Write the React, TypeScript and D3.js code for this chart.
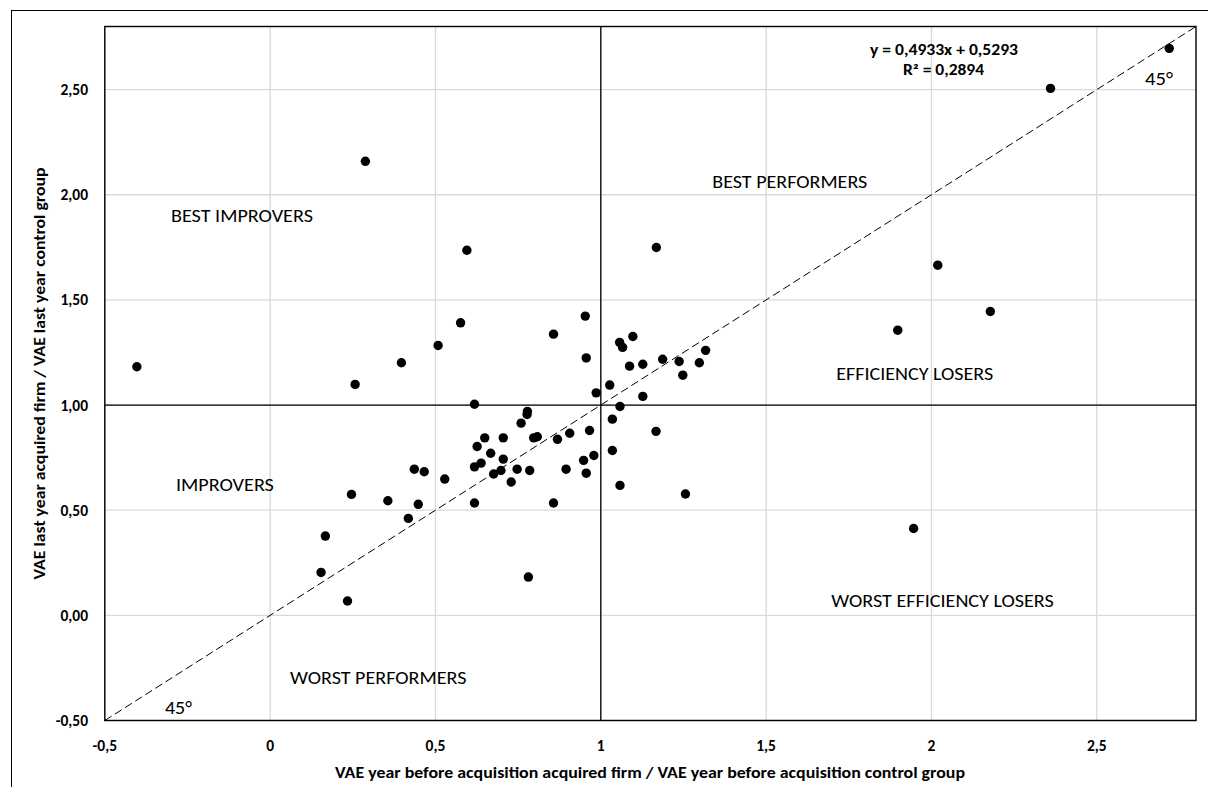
import React from "react";
import * as d3 from "d3";

// x: VAE year before acquisition ratio, y: VAE last year ratio
const X_VALUES = [
  0.857, 0.508, 0.397, 1.057, 1.066, 1.097, 0.956, 1.087, 1.127, 1.187,
  1.237, 1.317, 1.298, 1.248, 1.027, 0.986, 1.127, 0.618, 1.058, 0.778,
  0.777, 0.759, 1.035, 0.966, 0.906, 0.869, 0.797, 0.808, 0.705, 0.649,
  0.626, 0.667, 0.705, 0.638, 0.618, 0.747, 0.785, 0.698, 0.676, 0.729,
  1.167, 1.035, 0.979, 0.948, 0.895, 0.956, 1.058, 1.256, 0.857, 0.618,
  0.436, 0.466, 0.528, 0.356, 0.448, 0.418, -0.403, 0.288, 0.595, 0.576,
  0.257, 0.246, 0.167, 0.154, 0.234, 2.019, 2.178, 1.898, 1.946, 1.168,
  2.719, 2.36, 0.781, 0.953,
];
const Y_VALUES = [
  1.337, 1.283, 1.201, 1.298, 1.274, 1.326, 1.224, 1.185, 1.194, 1.218,
  1.207, 1.26, 1.201, 1.142, 1.095, 1.058, 1.041, 1.004, 0.993, 0.97,
  0.955, 0.914, 0.933, 0.879, 0.866, 0.837, 0.844, 0.849, 0.844, 0.844,
  0.803, 0.771, 0.743, 0.724, 0.706, 0.695, 0.689, 0.689, 0.672, 0.634,
  0.875, 0.784, 0.76, 0.737, 0.695, 0.676, 0.618, 0.577, 0.534, 0.534,
  0.695, 0.683, 0.648, 0.545, 0.528, 0.461, 1.182, 2.159, 1.736, 1.391,
  1.098, 0.575, 0.377, 0.204, 0.068, 1.665, 1.445, 1.356, 0.413, 1.749,
  2.696, 2.506, 0.182, 1.423,
];

const X_TICKS = [-0.5, 0, 0.5, 1, 1.5, 2, 2.5];
const X_TICK_LABELS = ["-0,5", "0", "0,5", "1", "1,5", "2", "2,5"];
const Y_TICKS = [-0.5, 0, 0.5, 1, 1.5, 2, 2.5];
const Y_TICK_LABELS = ["-0,50", "0,00", "0,50", "1,00", "1,50", "2,00", "2,50"];

const QUADRANT_LABELS = [
  "BEST IMPROVERS",
  "BEST PERFORMERS",
  "EFFICIENCY LOSERS",
  "IMPROVERS",
  "WORST PERFORMERS",
  "WORST EFFICIENCY LOSERS",
];

const X_TITLE = "VAE year before acquisition acquired firm  / VAE year before acquisition control group";
const Y_TITLE = "VAE last year acquired firm  / VAE last year control group";
const EQUATION = "y = 0,4933x + 0,5293";
const R_SQUARED = "R\u00b2 = 0,2894";

export default function App() {
  const W = 1208;
  const H = 787;
  const left = 104.8;
  const right = 1196;
  const top = 26.5;
  const bottom = 720.5;

  const x = d3.scaleLinear().domain([-0.5, 2.8]).range([left, right]);
  const y = d3.scaleLinear().domain([-0.5, 2.8]).range([bottom, top]);

  const font = "Carlito, Calibri, Lato, 'Open Sans', sans-serif";

  // label layout: [x data start, y data baseline, textLength]
  const labelLayout = [
    [-0.3, 1.869, 142],
    [1.337, 2.031, 155],
    [1.712, 1.118, 157],
    [-0.285, 0.59, 98],
    [0.06, -0.327, 176.5],
    [1.697, 0.039, 222.5],
  ];

  const points = X_VALUES.map((v, i) => [v, Y_VALUES[i]]);
  const diag = d3.line<number[]>().x((d) => x(d[0])).y((d) => y(d[1]));

  return (
    <svg
      width={W}
      height={H}
      style={{ position: "absolute", left: 0, top: 0, background: "#fff" }}
      fontFamily={font}
    >
      <rect x={0} y={0} width={W} height={H} fill="#fff" />
      {/* outer frame */}
      <rect x={11.5} y={10.5} width={1400} height={1000} fill="none" stroke="#000" strokeWidth={1} />

      {/* gridlines */}
      {X_TICKS.map((t) => (
        <line key={"gx" + t} x1={x(t)} x2={x(t)} y1={top} y2={bottom} stroke="#d9d9d9" strokeWidth={1.3} />
      ))}
      {Y_TICKS.map((t) => (
        <line key={"gy" + t} x1={left} x2={right} y1={y(t)} y2={y(t)} stroke="#d9d9d9" strokeWidth={1.3} />
      ))}

      {/* quadrant lines */}
      <line x1={x(1)} x2={x(1)} y1={top} y2={bottom} stroke="#000" strokeWidth={1.3} />
      <line x1={left} x2={right} y1={y(1)} y2={y(1)} stroke="#000" strokeWidth={1.3} />

      {/* 45 degree line */}
      <path
        d={diag([[-0.5, -0.5], [2.8, 2.8]]) || ""}
        fill="none"
        stroke="#000"
        strokeWidth={1}
        strokeDasharray="8 4"
      />

      {/* plot border */}
      <rect x={left} y={top} width={right - left} height={bottom - top} fill="none" stroke="#000" strokeWidth={1.4} />

      {/* points */}
      {points.map((p, i) => (
        <circle key={i} cx={x(p[0])} cy={y(p[1])} r={4.7} fill="#000" />
      ))}

      {/* y tick labels */}
      {Y_TICKS.map((t, i) => (
        <text key={"yt" + t} x={88} y={y(t) + 5.5} textAnchor="end" fontSize={15.5} fontWeight="bold" fill="#000">
          {Y_TICK_LABELS[i]}
        </text>
      ))}
      {/* x tick labels */}
      {X_TICKS.map((t, i) => (
        <text key={"xt" + t} x={x(t)} y={751} textAnchor="middle" fontSize={15.5} fontWeight="bold" fill="#000">
          {X_TICK_LABELS[i]}
        </text>
      ))}

      {/* axis titles */}
      <text x={650} y={778} textAnchor="middle" fontSize={15.5} fontWeight="bold" textLength={630} lengthAdjust="spacingAndGlyphs">
        {X_TITLE}
      </text>
      <text
        transform={`translate(44.5, ${(top + bottom) / 2}) rotate(-90)`}
        textAnchor="middle"
        fontSize={15.5}
        fontWeight="bold"
        textLength={412}
        lengthAdjust="spacingAndGlyphs"
      >
        {Y_TITLE}
      </text>

      {/* quadrant labels */}
      {QUADRANT_LABELS.map((lab, i) => (
        <text
          key={lab}
          x={x(labelLayout[i][0])}
          y={y(labelLayout[i][1])}
          fontSize={18}
          fill="#000"
          textLength={labelLayout[i][2]}
          lengthAdjust="spacingAndGlyphs"
        >
          {lab}
        </text>
      ))}

      {/* regression equation */}
      <text x={944} y={55} textAnchor="middle" fontSize={15} fontWeight="bold" textLength={148} lengthAdjust="spacingAndGlyphs">
        {EQUATION}
      </text>
      <text x={943.5} y={75} textAnchor="middle" fontSize={15} fontWeight="bold" textLength={81} lengthAdjust="spacingAndGlyphs">
        {R_SQUARED}
      </text>

      {/* 45 degree labels */}
      <text x={1145} y={85} fontSize={18} textLength={28} lengthAdjust="spacingAndGlyphs">45°</text>
      <text x={165} y={714} fontSize={18} textLength={27} lengthAdjust="spacingAndGlyphs">45°</text>
    </svg>
  );
}
